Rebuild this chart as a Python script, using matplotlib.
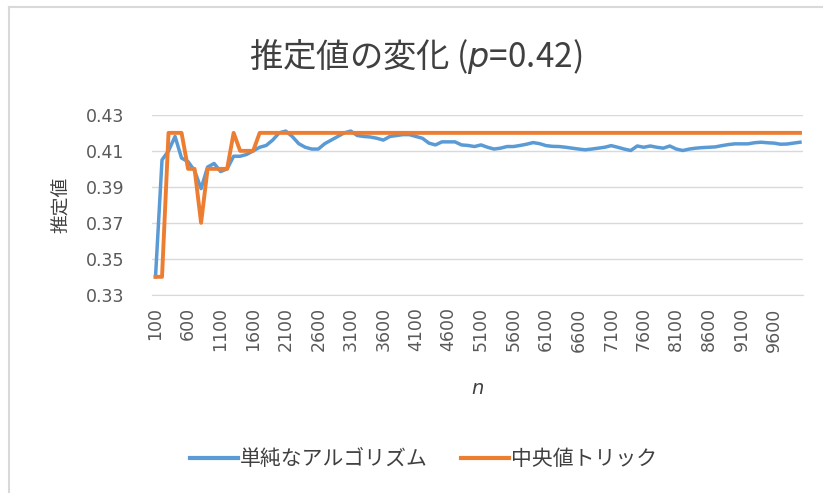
import matplotlib
matplotlib.use("Agg")
import matplotlib.pyplot as plt
from matplotlib.lines import Line2D

plt.rcParams['font.family'] = ['Noto Sans CJK JP', 'DejaVu Sans']
plt.rcParams['mathtext.fontset'] = 'custom'
plt.rcParams['mathtext.it'] = 'DejaVu Sans:italic'
plt.rcParams['mathtext.rm'] = 'DejaVu Sans'

# sample sizes n = 100, 200, ..., 10000
n_values = list(range(100, 10001, 100))
tick_labels = [str(n) for n in n_values[::5]]

naive = [
    0.340, 0.405, 0.410, 0.418, 0.406, 0.404, 0.399, 0.389, 0.401, 0.403,
    0.3985, 0.400, 0.407, 0.407, 0.408, 0.410, 0.412, 0.413, 0.416, 0.420,
    0.421, 0.418, 0.414, 0.412, 0.411, 0.411, 0.414, 0.416, 0.418, 0.420,
    0.421, 0.4185, 0.418, 0.4177, 0.417, 0.416, 0.418, 0.4185, 0.419, 0.419,
    0.418, 0.417, 0.4143, 0.4133, 0.415, 0.415, 0.415, 0.4133, 0.413, 0.4124,
    0.4133, 0.412, 0.411, 0.4115, 0.4124, 0.4124, 0.413, 0.4137, 0.4146, 0.414,
    0.4129, 0.4125, 0.4124, 0.412, 0.4115, 0.411, 0.4106, 0.411, 0.4115, 0.412,
    0.4129, 0.412, 0.411, 0.4102, 0.4127, 0.412, 0.4127, 0.412, 0.4115, 0.4127,
    0.411, 0.4102, 0.411, 0.4115, 0.4118, 0.412, 0.4122, 0.4129, 0.4135, 0.4139,
    0.4139, 0.4139, 0.4145, 0.4148, 0.4145, 0.4143, 0.4137, 0.4138, 0.4143, 0.4148,
]
median = [0.34, 0.34, 0.42, 0.42, 0.42, 0.40, 0.40, 0.37, 0.40, 0.40,
          0.40, 0.40, 0.42, 0.41, 0.41, 0.41] + [0.42] * 84

series_names = ["単純なアルゴリズム", "中央値トリック"]
colors = ["#5B9BD5", "#ED7D31"]

fig = plt.figure(figsize=(8.23, 4.93), dpi=100)
ax = fig.add_axes([0.185, 0.402, 0.791, 0.365])

xs = list(range(len(n_values)))
ax.plot(xs, naive, color=colors[0], lw=2.5, solid_joinstyle="round", zorder=3)
ax.plot(xs, median, color=colors[1], lw=2.8, solid_joinstyle="round", zorder=4)

ax.set_xlim(-0.5, len(n_values) - 0.5)
ax.set_ylim(0.33, 0.43)
ax.set_yticks([0.33, 0.35, 0.37, 0.39, 0.41, 0.43])
ax.set_yticklabels(["0.33", "0.35", "0.37", "0.39", "0.41", "0.43"],
                   family="DejaVu Sans", fontsize=12.5)
ax.set_xticks(xs[::5])
ax.set_xticklabels(tick_labels, rotation=90, va="top", ha="center",
                   family="DejaVu Sans", fontsize=12.5)

ax.grid(axis="y", color="#d9d9d9", lw=1)
ax.set_axisbelow(True)
for s in ["top", "right", "left"]:
    ax.spines[s].set_visible(False)
ax.spines["bottom"].set_color("#d9d9d9")
ax.tick_params(axis="both", length=0, colors="#595959")
ax.tick_params(axis="y", pad=20)
ax.tick_params(axis="x", pad=9)

ax.set_ylabel("推定値", fontsize=13.5, color="#404040", labelpad=10)
ax.set_xlabel("n", fontsize=14, family="DejaVu Sans", fontstyle="italic",
              color="#404040", labelpad=20)

fig.text(0.505, 1 - 56 / 493, "推定値の変化 ($p$=0.42)", fontsize=24,
         color="#404040", ha="center", va="center")

handles = [Line2D([], [], color=c, lw=3) for c in colors]
fig.legend(handles, series_names, loc="center", ncol=2, frameon=False,
           bbox_to_anchor=(0.515, 1 - 459 / 493), fontsize=15, handlelength=2.3,
           handletextpad=0.1, columnspacing=1.6, labelcolor="#404040")

# chart area frame (left and top edges visible in the reference)
fig.add_artist(Line2D([9 / 823, 9 / 823], [0, 1 - 7 / 493], color="#d9d9d9",
                      lw=1.5, transform=fig.transFigure))
fig.add_artist(Line2D([9 / 823, 1], [1 - 7 / 493, 1 - 7 / 493], color="#d9d9d9",
                      lw=1.5, transform=fig.transFigure))

fig.savefig("out.png", dpi=100)
